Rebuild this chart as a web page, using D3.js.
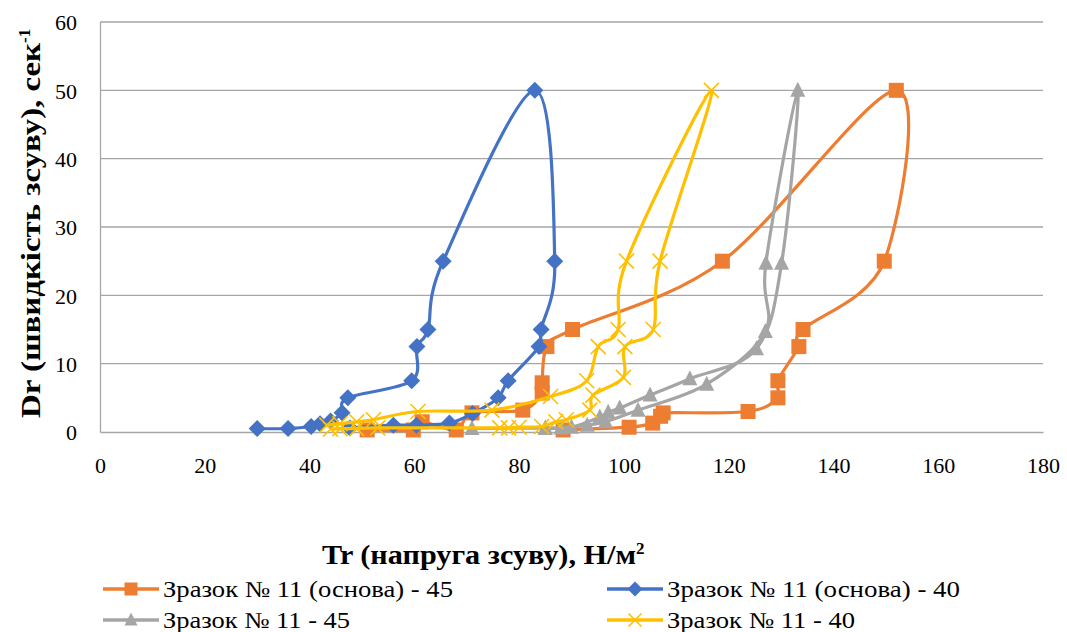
<html><head><meta charset="utf-8">
<script src="https://cdn.jsdelivr.net/npm/d3@7/dist/d3.min.js"></script>
</head><body style="margin:0">
<svg id="chart" width="1067" height="632" style="font-family:'Liberation Serif', Tinos, 'Times New Roman', Times, FreeSerif"></svg>
<script>
// ---- data ----
const xTicks = [0, 20, 40, 60, 80, 100, 120, 140, 160, 180];
const yTicks = [0, 10, 20, 30, 40, 50, 60];

const seriesNames = [
  "Зразок № 11 (основа) - 45",
  "Зразок № 11 (основа) - 40",
  "Зразок № 11 - 45",
  "Зразок № 11 - 40"
];
const seriesColors = ["#ED7D31", "#4472C4", "#A5A5A5", "#FFC000"];
const seriesMarkers = ["square", "diamond", "triangle", "x"];

// Зразок № 11 (основа) - 45  [Tr, Dr]
const base45 = [
  [51, 0.3], [59.8, 0.3], [61.5, 1.5], [68, 0.3], [71, 2.8], [80.7, 3.2],
  [84.4, 5.7], [84.4, 7.2], [85.3, 12.5], [90.2, 15], [118.8, 25], [152, 50],
  [149.7, 25], [134.2, 15], [133.4, 12.5], [129.4, 7.5], [129.4, 5], [123.7, 3],
  [107.5, 2.8], [107, 2.3], [105.5, 1.3], [101, 0.7], [88.4, 0.3]
];
// Зразок № 11 (основа) - 40
const base40 = [
  [30, 0.5], [35.9, 0.5], [40.3, 0.8], [42, 1.2], [44, 1.6], [46.2, 2.8],
  [47.3, 5], [59.5, 7.5], [60.5, 12.5], [62.6, 15], [65.5, 25], [83, 50],
  [86.8, 25], [84.2, 15], [83.8, 12.5], [77.9, 7.5], [76, 5], [71.1, 2.7],
  [66.7, 1.3], [60.4, 1.0], [56, 1.0], [47.7, 0.6]
];
// Зразок № 11 - 45
const s45 = [
  [71, 0.5], [85, 0.6], [90, 0.7], [95.4, 2.2], [97, 2.9], [99.2, 3.5],
  [105, 5.4], [112.6, 7.8], [125.3, 12.2], [130.1, 24.7], [133.2, 50],
  [127.1, 24.7], [127, 14.7], [115.8, 7], [102.7, 3.2], [96.5, 1.5],
  [93, 1], [88, 0.6], [85, 0.5]
];
// Зразок № 11 - 40
const s40 = [
  [44, 0.4], [45.8, 0.5], [49, 0.5], [53, 0.6], [76.3, 0.6], [78, 0.6],
  [80, 0.7], [84.3, 0.8], [87, 1.5], [89, 1.8], [93.5, 3.2], [94.1, 5.4],
  [99.9, 8], [100.2, 12.5], [105.6, 15], [106.9, 25], [116.7, 50],
  [100.5, 25], [98.9, 15], [95.1, 12.5], [92.9, 7.5], [86, 5.2], [74.8, 3.2],
  [60.7, 3], [52.2, 1.8], [49, 1.5], [45.8, 1.2], [43.3, 1]
];
const allSeries = [base45, base40, s45, s40];

const xTitle = "Tr (напруга зсуву), Н/м";
const yTitle = "Dr (швидкість зсуву), сек";

const FONT = "'Liberation Serif', Tinos, 'Times New Roman', Times, FreeSerif";

// ---- layout ----
const svg = d3.select("#chart");
const x = d3.scaleLinear().domain([0, 180]).range([100, 1043]);
const y = d3.scaleLinear().domain([0, 60]).range([432, 22]);

// gridlines
svg.append("g").selectAll("line").data(yTicks.filter(d => d > 0)).join("line")
  .attr("x1", x(0)).attr("x2", x(180))
  .attr("y1", d => y(d)).attr("y2", d => y(d))
  .attr("stroke", "#A6A6A6").attr("stroke-width", 1.3);

// axes
const xAxis = svg.append("g").attr("transform", `translate(0,${y(0)})`)
  .call(d3.axisBottom(x).tickValues(xTicks).tickSize(0).tickPadding(25).tickFormat(d3.format("d")));
const yAxis = svg.append("g").attr("transform", `translate(${x(0)},0)`)
  .call(d3.axisLeft(y).tickValues(yTicks).tickSize(0).tickPadding(23).tickFormat(d3.format("d")));
[xAxis, yAxis].forEach(a => {
  a.attr("font-family", null).attr("font-size", null);
  a.select(".domain").attr("stroke", "#A6A6A6").attr("stroke-width", 1.3);
  a.selectAll("text").style("font-family", FONT).style("font-size", "22px").attr("fill", "#000");
});
yAxis.selectAll("text").attr("dy", "0.35em");

// marker drawer
function marker(g, type, color, s) {
  const h = s / 2;
  if (type === "square") {
    g.append("rect").attr("x", -h).attr("y", -h).attr("width", s).attr("height", s).attr("fill", color);
  } else if (type === "diamond") {
    g.append("path").attr("d", `M0,${-h - 1}L${h + 1},0L0,${h + 1}L${-h - 1},0Z`).attr("fill", color);
  } else if (type === "triangle") {
    g.append("path").attr("d", `M0,${-h - 1}L${h},${h - 1}L${-h},${h - 1}Z`).attr("fill", color);
  } else if (type === "x") {
    g.append("path").attr("d", `M${-h},${-h}L${h},${h}M${-h},${h}L${h},${-h}`)
      .attr("stroke", color).attr("stroke-width", 1.6).attr("fill", "none");
  }
}

const line = d3.line().x(d => x(d[0])).y(d => y(d[1])).curve(d3.curveCardinal.tension(0));

allSeries.forEach((data, i) => {
  const g = svg.append("g");
  g.append("path").datum(data).attr("d", line)
    .attr("fill", "none").attr("stroke", seriesColors[i]).attr("stroke-width", 3.2)
    .attr("stroke-linejoin", "round");
  data.forEach(d => {
    const mg = g.append("g").attr("transform", `translate(${x(d[0])},${y(d[1])})`);
    marker(mg, seriesMarkers[i], seriesColors[i], 15);
  });
});

// x title
const xt = svg.append("text").attr("x", 322).attr("y", 564)
  .style("font-family", FONT).style("font-weight", "bold").style("font-size", "27px").attr("fill", "#000");
xt.append("tspan").attr("textLength", 314).attr("lengthAdjust", "spacingAndGlyphs").text(xTitle);
xt.append("tspan").attr("dy", -10).style("font-size", "17px").text("2");

// y title
const yt = svg.append("text").attr("transform", "translate(40,418) rotate(-90)")
  .style("font-family", FONT).style("font-weight", "bold").style("font-size", "27px").attr("fill", "#000");
yt.append("tspan").attr("textLength", 375).attr("lengthAdjust", "spacingAndGlyphs").text(yTitle);
yt.append("tspan").attr("dy", -10).style("font-size", "17px").text("-1");

// legend
const legendPos = [[103, 589], [607, 589], [103, 620], [607, 620]];
const legendWidths = [290, 293, 187, 188];
seriesNames.forEach((name, i) => {
  const [lx, ly] = legendPos[i];
  const g = svg.append("g");
  g.append("line").attr("x1", lx).attr("x2", lx + 56).attr("y1", ly).attr("y2", ly)
    .attr("stroke", seriesColors[i]).attr("stroke-width", 3.5);
  const mg = g.append("g").attr("transform", `translate(${lx + 28},${ly})`);
  marker(mg, seriesMarkers[i], seriesColors[i], 13);
  g.append("text").attr("x", lx + 60).attr("y", ly).attr("dy", "0.35em")
    .style("font-family", FONT).style("font-size", "23px").attr("fill", "#000")
    .attr("textLength", legendWidths[i]).attr("lengthAdjust", "spacingAndGlyphs")
    .text(name);
});
</script>
</body>
</html>
